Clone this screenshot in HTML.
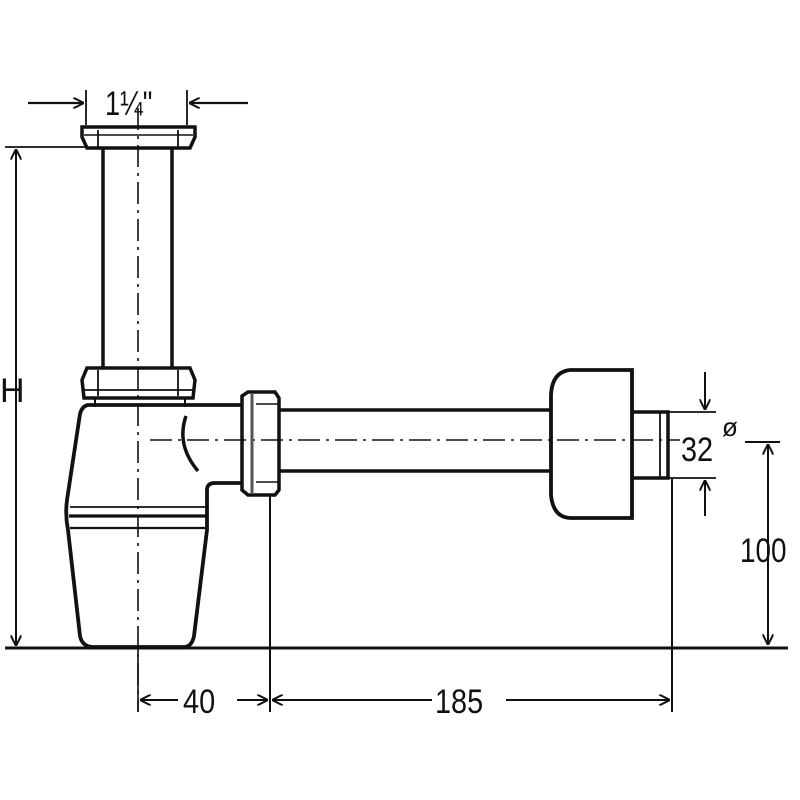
<!DOCTYPE html>
<html><head><meta charset="utf-8"><style>
html,body{margin:0;padding:0;background:#fff;}
svg{display:block}
text{font-family:"Liberation Sans",sans-serif;fill:#111}
</style></head><body>
<svg width="800" height="800" viewBox="0 0 800 800" xmlns="http://www.w3.org/2000/svg">
<defs>
<marker id="a" viewBox="0 0 10 10" refX="10" refY="5" markerWidth="11" markerHeight="11" orient="auto-start-reverse" markerUnits="userSpaceOnUse">
<path d="M0,0 L10,5 L0,10" fill="none" stroke="#111" stroke-width="1.8"/>
</marker>
</defs>
<g stroke="#111" fill="none">
<line x1="138" y1="108" x2="138" y2="712" stroke-width="1.6" stroke-dasharray="22,6,3,6"/>
<line x1="150" y1="440" x2="680" y2="440" stroke-width="1.6" stroke-dasharray="22,6,3,6"/>
<line x1="5" y1="648" x2="788" y2="648" stroke-width="3"/>
<line x1="86" y1="90" x2="86" y2="125" stroke-width="1.8"/>
<line x1="187" y1="90" x2="187" y2="125" stroke-width="1.8"/>
<line x1="28" y1="103" x2="84" y2="103" stroke-width="2.2" marker-end="url(#a)"/>
<line x1="248" y1="103" x2="189" y2="103" stroke-width="2.2" marker-end="url(#a)"/>
<line x1="5" y1="147" x2="86" y2="147" stroke-width="1.8"/>
<line x1="16" y1="149" x2="16" y2="646" stroke-width="2" marker-start="url(#a)" marker-end="url(#a)"/>
<path d="M82,127 L195,127 L195,137 L190,148 L87,148 L82,137 Z" stroke-width="3.5"/>
<line x1="98" y1="130" x2="98" y2="147" stroke-width="1.8"/>
<line x1="178" y1="130" x2="178" y2="147" stroke-width="1.8"/>
<line x1="84" y1="135" x2="193" y2="135" stroke-width="1.4"/>
<line x1="103" y1="148" x2="103" y2="368" stroke-width="3.5"/>
<line x1="172" y1="148" x2="172" y2="368" stroke-width="3.5"/>
<path d="M87,368 L190,368 L195,380 L193,398 L84,398 L82,380 Z" stroke-width="3.5"/>
<line x1="98" y1="370" x2="98" y2="396" stroke-width="1.8"/>
<line x1="178" y1="370" x2="178" y2="396" stroke-width="1.8"/>
<line x1="84" y1="390" x2="193" y2="390" stroke-width="1.8"/>
<line x1="95" y1="398" x2="95" y2="407" stroke-width="2"/>
<line x1="185" y1="398" x2="185" y2="407" stroke-width="2"/>
<path d="M242,405 L88,405 Q82,406 80,414 L67,500 Q65,515 68,530 L80,636 Q82,646 92,647 L185,647 Q192,646 194,636 L207,530 L207,490 Q207,483 215,483 L242,483" stroke-width="3.8"/>
<line x1="70" y1="507" x2="207" y2="507" stroke-width="1.8"/>
<line x1="69" y1="516" x2="207" y2="516" stroke-width="3.2"/>
<line x1="70" y1="528" x2="206" y2="528" stroke-width="2.2"/>
<path d="M186,416 Q176,445 198,471" stroke-width="3.5"/>
<path d="M242,396 L248,392 L275,392 L279,398 L279,490 L275,495 L248,495 L242,490 Z" stroke-width="3.5"/>
<line x1="252" y1="393" x2="252" y2="494" stroke-width="3" stroke="#555"/>
<line x1="256" y1="404" x2="278" y2="404" stroke-width="1.6"/>
<line x1="256" y1="482" x2="278" y2="482" stroke-width="1.6"/>
<line x1="279" y1="410" x2="552" y2="410" stroke-width="3.5"/>
<line x1="279" y1="471" x2="552" y2="471" stroke-width="3.5"/>
<path d="M632,370 L570,370 Q552,372 551,395 L551,495 Q553,517 570,518 L632,518 Z" stroke-width="3.8"/>
<path d="M632,412 L668,412 L668,478 L632,478" stroke-width="3.5"/>
<line x1="660" y1="413" x2="660" y2="477" stroke-width="1.8"/>
<line x1="668" y1="412" x2="716" y2="412" stroke-width="1.8"/>
<line x1="668" y1="478" x2="716" y2="478" stroke-width="1.8"/>
<line x1="705" y1="372" x2="705" y2="410" stroke-width="2" marker-end="url(#a)"/>
<line x1="705" y1="516" x2="705" y2="480" stroke-width="2" marker-end="url(#a)"/>
<line x1="745" y1="442" x2="780" y2="442" stroke-width="2"/>
<line x1="768" y1="645" x2="768" y2="444" stroke-width="2" marker-start="url(#a)" marker-end="url(#a)"/>
<line x1="138" y1="648" x2="138" y2="712" stroke-width="1.6"/>
<line x1="270" y1="495" x2="270" y2="712" stroke-width="2"/>
<line x1="672" y1="478" x2="672" y2="712" stroke-width="2"/>
<line x1="140" y1="700" x2="178" y2="700" stroke-width="2" marker-start="url(#a)"/>
<line x1="237" y1="700" x2="268" y2="700" stroke-width="2" marker-end="url(#a)"/>
<line x1="272" y1="700" x2="432" y2="700" stroke-width="2" marker-start="url(#a)"/>
<line x1="506" y1="700" x2="670" y2="700" stroke-width="2" marker-end="url(#a)"/>
</g>
<g font-size="34">
<text x="105" y="115" transform="translate(105 0) scale(0.8 1) translate(-105 0)">1¼"</text>
<text x="0" y="402">H</text>
<text x="681" y="461" transform="translate(681 0) scale(0.85 1) translate(-681 0)">32</text>
<text x="722" y="436" font-size="26">ø</text>
<text x="740" y="562" transform="translate(740 0) scale(0.82 1) translate(-740 0)">100</text>
<text x="183" y="713" transform="translate(183 0) scale(0.85 1) translate(-183 0)">40</text>
<text x="435" y="713" transform="translate(435 0) scale(0.85 1) translate(-435 0)">185</text>
</g>
</svg>
</body></html>
